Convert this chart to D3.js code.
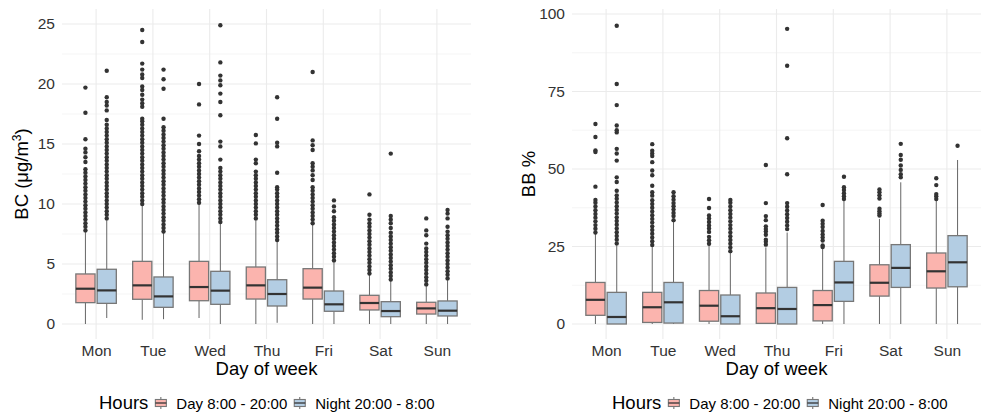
<!DOCTYPE html>
<html>
<head>
<meta charset="utf-8">
<script src="https://cdn.jsdelivr.net/npm/d3@7"></script>
<style>
	body { margin: 0; background: #fff; }
	svg { display: block; font-family: "Liberation Sans", Arial, sans-serif; }
</style>
</head>
<body>
<div id="viz"></div>
<script>
const days = ['Mon', 'Tue', 'Wed', 'Thu', 'Fri', 'Sat', 'Sun'];
const hourGroups = ['Day 8:00 - 20:00', 'Night 20:00 - 8:00'];

// box stats per day: [lower whisker, q1, median, q3, upper whisker]
const bcDay = [
	[0, 1.78, 2.94, 4.17, 7.75],
	[0.35, 2.06, 3.22, 5.22, 9.9],
	[0.5, 1.94, 3.08, 5.22, 10.0],
	[0, 2.08, 3.22, 4.75, 8.7],
	[0, 2.08, 3.03, 4.61, 8.4],
	[0, 1.17, 1.75, 2.39, 4.2],
	[0, 0.83, 1.3, 1.81, 3.3]
];
const bcNight = [
	[0.5, 1.72, 2.8, 4.56, 8.8],
	[0.4, 1.39, 2.3, 3.92, 7.7],
	[0, 1.64, 2.78, 4.39, 8.5],
	[0.1, 1.5, 2.5, 3.69, 7.0],
	[0, 1.06, 1.64, 2.75, 5.3],
	[0, 0.61, 1.08, 1.86, 3.7],
	[0, 0.67, 1.11, 1.92, 3.8]
];
const bcDayOut = [
	[7.8, 8.1, 8.4, 8.7, 9.0, 9.3, 9.6, 9.9, 10.2, 10.5, 10.8, 11.1, 11.4, 11.7, 12.0, 12.3, 12.6, 12.9, 13.5, 13.9, 14.3, 14.6, 15.4, 17.6, 19.7],
	[10.0, 10.3, 10.6, 10.9, 11.2, 11.5, 11.8, 12.1, 12.4, 12.7, 13.0, 13.3, 13.6, 13.9, 14.2, 14.5, 14.8, 15.1, 15.4, 15.7, 16.0, 16.3, 16.6, 16.9, 17.1, 18.1, 18.4, 18.7, 19.1, 19.5, 19.8, 20.5, 20.8, 21.2, 21.7, 23.5, 24.5],
	[10.1, 10.4, 10.7, 11.0, 11.3, 11.6, 11.9, 12.2, 12.5, 12.8, 13.1, 13.4, 13.7, 14.0, 14.4, 15.0, 15.7, 18.3, 20.0],
	[8.8, 9.1, 9.4, 9.7, 10.0, 10.3, 10.6, 10.9, 11.2, 11.5, 11.8, 12.1, 12.4, 12.7, 13.4, 13.7, 15.05, 15.75],
	[8.4, 8.7, 9.0, 9.3, 9.6, 9.9, 10.2, 10.5, 10.8, 11.1, 11.4, 12.0, 12.4, 12.8, 13.1, 13.4, 14.5, 14.9, 15.3, 21.0],
	[4.2, 4.5, 4.8, 5.1, 5.4, 5.7, 6.0, 6.3, 6.6, 6.9, 7.2, 7.5, 7.8, 8.1, 8.4, 8.7, 9.1, 10.8],
	[3.3, 3.6, 3.9, 4.2, 4.5, 4.8, 5.1, 5.4, 5.7, 6.0, 6.3, 6.7, 7.4, 7.8, 8.8]
];
const bcNightOut = [
	[8.8, 9.1, 9.4, 9.7, 10.0, 10.3, 10.6, 10.9, 11.2, 11.5, 11.8, 12.1, 12.4, 12.7, 13.0, 13.3, 13.6, 13.9, 14.2, 14.5, 14.8, 15.1, 15.4, 15.7, 16.0, 16.3, 16.6, 17.0, 17.8, 18.2, 18.5, 18.9, 21.1],
	[7.7, 8.0, 8.3, 8.6, 8.9, 9.2, 9.5, 9.8, 10.1, 10.4, 10.7, 11.0, 11.3, 11.6, 11.9, 12.2, 12.5, 12.8, 13.1, 13.4, 13.7, 14.0, 14.3, 14.6, 14.9, 15.2, 15.5, 15.8, 16.1, 16.4, 17.1, 19.6, 20.4, 21.2],
	[8.5, 8.8, 9.1, 9.4, 9.7, 10.0, 10.3, 10.6, 10.9, 11.2, 11.5, 11.8, 12.1, 12.4, 12.7, 13.0, 13.7, 14.8, 15.2, 17.4, 18.5, 19.2, 19.9, 20.3, 20.7, 21.8, 24.9],
	[7.0, 7.3, 7.6, 7.9, 8.2, 8.5, 8.8, 9.1, 9.4, 9.7, 10.0, 10.3, 10.6, 10.9, 11.2, 11.4, 12.6, 14.8, 15.1, 17.1, 18.9],
	[5.3, 5.6, 5.9, 6.2, 6.5, 6.8, 7.1, 7.4, 7.7, 8.0, 8.3, 8.6, 8.9, 9.4, 9.8, 10.3],
	[3.7, 4.0, 4.3, 4.6, 4.9, 5.2, 5.5, 5.8, 6.1, 6.4, 6.7, 7.0, 7.3, 7.6, 8.0, 8.4, 8.7, 9.0, 14.2],
	[3.8, 4.1, 4.4, 4.7, 5.0, 5.3, 5.6, 5.9, 6.2, 6.5, 6.8, 7.1, 7.4, 7.7, 8.1, 8.8, 9.2, 9.5]
];

const bbDay = [
	[0, 2.8, 7.8, 13.4, 29.3],
	[0, 0.5, 5.4, 10.2, 24.8],
	[0, 0.9, 5.9, 10.8, 25.6],
	[0, 0.2, 5.1, 10.0, 24.7],
	[0, 1.0, 6.1, 10.8, 24.5],
	[0, 9.0, 13.3, 19.1, 33.9],
	[0, 11.6, 17.0, 22.9, 39.8]
];
const bbNight = [
	[0, 0, 2.26, 10.2, 25.5],
	[0, 0.3, 7.0, 13.4, 33.1],
	[0, 0, 2.5, 9.35, 23.2],
	[0, 0, 4.84, 11.8, 29.5],
	[0, 7.3, 13.4, 20.2, 39.8],
	[0, 11.8, 18.1, 25.6, 45.7],
	[0, 12.0, 19.9, 28.5, 52.9]
];
const bbDayOut = [
	[29.5, 30.7, 31.9, 33.1, 34.3, 35.5, 36.7, 37.9, 39.1, 40.0, 44.3, 55.5, 56.0, 60.3, 64.5],
	[25.5, 26.7, 27.9, 29.1, 30.3, 31.5, 32.7, 33.9, 35.1, 36.3, 37.5, 38.7, 39.9, 41.4, 42.5, 44.6, 48.0, 49.5, 52.2, 54.2, 55.0, 55.9, 58.0],
	[25.9, 27.0, 28.1, 29.7, 30.8, 31.8, 32.9, 34.0, 35.0, 37.4, 40.3],
	[25.6, 26.5, 27.2, 28.8, 29.8, 30.6, 31.5, 33.5, 34.8, 39.0, 51.3],
	[24.8, 25.3, 26.9, 27.9, 28.9, 30.0, 31.3, 32.3, 33.3, 38.4],
	[35.0, 35.6, 36.4, 37.2, 40.5, 41.5, 42.5, 43.4],
	[40.3, 41.2, 41.9, 44.8, 47.0]
];
const bbNightOut = [
	[26.0, 27.2, 28.4, 29.6, 30.8, 32.0, 33.2, 34.4, 35.6, 36.8, 38.0, 39.2, 40.4, 41.5, 43.0, 45.8, 47.3, 52.7, 55.0, 56.5, 61.8, 62.5, 64.0, 70.6, 77.4, 96.2],
	[33.5, 34.8, 35.8, 36.9, 38.0, 39.0, 40.1, 41.2, 42.5],
	[23.5, 24.7, 25.9, 27.1, 28.3, 29.5, 30.7, 31.9, 33.1, 34.3, 35.5, 36.7, 37.9, 39.1, 40.0],
	[30.6, 31.8, 33.0, 34.2, 35.4, 36.6, 37.8, 39.0, 48.3, 59.9, 83.3, 95.2],
	[40.3, 41.2, 42.2, 43.2, 44.1, 47.5],
	[47.3, 48.3, 49.7, 51.1, 53.0, 54.5, 58.1],
	[57.5]
];

const bcTicks = [0, 5, 10, 15, 20, 25];
const bbTicks = [0, 25, 50, 75, 100];

const fills = ['#fbb4ae', '#b3cde3'];
const width = 981, height = 414;
const plotTop = 9, plotBottom = 339;

let svg = d3.select('#viz').append('svg')
	.attr('width', width)
	.attr('height', height);

let panels = [
	{ left: 62, right: 471, domain: [-1.25, 26.25], ticks: bcTicks, stats: [bcDay, bcNight], out: [bcDayOut, bcNightOut], titleX: 28, legendX: 99, bc: true },
	{ left: 572, right: 981, domain: [-4.84, 101.6], ticks: bbTicks, stats: [bbDay, bbNight], out: [bbDayOut, bbNightOut], titleX: 535, legendX: 612, bc: false }
];

for (let p of panels) {
	let g = svg.append('g');

	let x = d3.scalePoint()
		.domain(days)
		.range([p.left, p.right])
		.padding(0.6);

	let y = d3.scaleLinear()
		.domain(p.domain)
		.range([plotBottom, plotTop]);

	let step = x.step();
	let minor = p.ticks.slice(1).map((t, i) => (t + p.ticks[i]) / 2);

	// grid
	g.append('g').selectAll('line')
		.data(minor)
		.join('line')
		.attr('x1', p.left).attr('x2', p.right)
		.attr('y1', d => y(d)).attr('y2', d => y(d))
		.attr('stroke', '#f2f2f2')
		.attr('stroke-width', 0.8);

	g.append('g').selectAll('line')
		.data(p.ticks)
		.join('line')
		.attr('x1', p.left).attr('x2', p.right)
		.attr('y1', d => y(d)).attr('y2', d => y(d))
		.attr('stroke', '#ebebeb')
		.attr('stroke-width', 1.1);

	g.append('g').selectAll('line')
		.data(days)
		.join('line')
		.attr('x1', d => x(d)).attr('x2', d => x(d))
		.attr('y1', plotTop).attr('y2', plotBottom)
		.attr('stroke', '#ebebeb')
		.attr('stroke-width', 1.1);

	// axes
	let yAxis = g.append('g')
		.attr('transform', `translate(${p.left},0)`)
		.call(d3.axisLeft(y).tickValues(p.ticks).tickSize(0).tickPadding(7));

	let xAxis = g.append('g')
		.attr('transform', `translate(0,${plotBottom})`)
		.call(d3.axisBottom(x).tickSize(0).tickPadding(6));

	for (let a of [xAxis, yAxis]) {
		a.select('.domain').remove();
		a.selectAll('text')
			.attr('font-size', 15.5)
			.attr('font-family', '"Liberation Sans", Arial, sans-serif')
			.attr('fill', '#333');
	}

	// boxes
	for (let h = 0; h < 2; h++) {
		let off = (h === 0 ? -1 : 1) * 0.1875 * step;
		let bw = 0.3375 * step;

		days.forEach((day, i) => {
			let [lo, q1, med, q3, hi] = p.stats[h][i];
			let cx = x(day) + off;
			let b = g.append('g');

			b.append('line')
				.attr('x1', cx).attr('x2', cx)
				.attr('y1', y(lo)).attr('y2', y(q1))
				.attr('stroke', '#666').attr('stroke-width', 1);
			b.append('line')
				.attr('x1', cx).attr('x2', cx)
				.attr('y1', y(q3)).attr('y2', y(hi))
				.attr('stroke', '#666').attr('stroke-width', 1);

			b.append('rect')
				.attr('x', cx - bw / 2)
				.attr('y', y(q3))
				.attr('width', bw)
				.attr('height', y(q1) - y(q3))
				.attr('fill', fills[h])
				.attr('stroke', '#777')
				.attr('stroke-width', 1.3);

			b.append('line')
				.attr('x1', cx - bw / 2).attr('x2', cx + bw / 2)
				.attr('y1', y(med)).attr('y2', y(med))
				.attr('stroke', '#333').attr('stroke-width', 2.2);

			b.selectAll('circle')
				.data(p.out[h][i])
				.join('circle')
				.attr('cx', cx)
				.attr('cy', d => y(d))
				.attr('r', 2.2)
				.attr('fill', '#333');
		});
	}

	// titles
	let mid = (p.left + p.right) / 2;
	g.append('text')
		.attr('x', mid).attr('y', 375)
		.attr('text-anchor', 'middle')
		.attr('font-size', 18.5)
		.text('Day of week');

	let yt = g.append('text')
		.attr('transform', `translate(${p.titleX},174) rotate(-90)`)
		.attr('text-anchor', 'middle')
		.attr('font-size', 18.5);
	if (p.bc) {
		yt.append('tspan').text('BC (μg/m');
		yt.append('tspan').attr('font-size', 12).attr('dy', -7).text('3');
		yt.append('tspan').attr('dy', 7).text(')');
	} else {
		yt.text('BB %');
	}

	// legend
	let lg = g.append('g');
	let lt = lg.append('text')
		.attr('x', p.legendX).attr('y', 409)
		.attr('font-size', 18.5)
		.text('Hours');
	let cur = p.legendX + lt.node().getComputedTextLength() + 7;

	hourGroups.forEach((name, h) => {
		let kx = cur + 5.5;
		lg.append('line')
			.attr('x1', kx).attr('x2', kx)
			.attr('y1', 397).attr('y2', 409)
			.attr('stroke', '#666').attr('stroke-width', 1);
		lg.append('rect')
			.attr('x', cur).attr('y', 399.5)
			.attr('width', 11).attr('height', 7)
			.attr('fill', fills[h])
			.attr('stroke', '#777')
			.attr('stroke-width', 1.1);
		lg.append('line')
			.attr('x1', cur).attr('x2', cur + 11)
			.attr('y1', 403).attr('y2', 403)
			.attr('stroke', '#333').attr('stroke-width', 1.3);

		let t = lg.append('text')
			.attr('x', cur + 21).attr('y', 409)
			.attr('font-size', 15)
			.text(name);
		cur = cur + 21 + t.node().getComputedTextLength() + 7;
	});
}
</script>
</body>
</html>
